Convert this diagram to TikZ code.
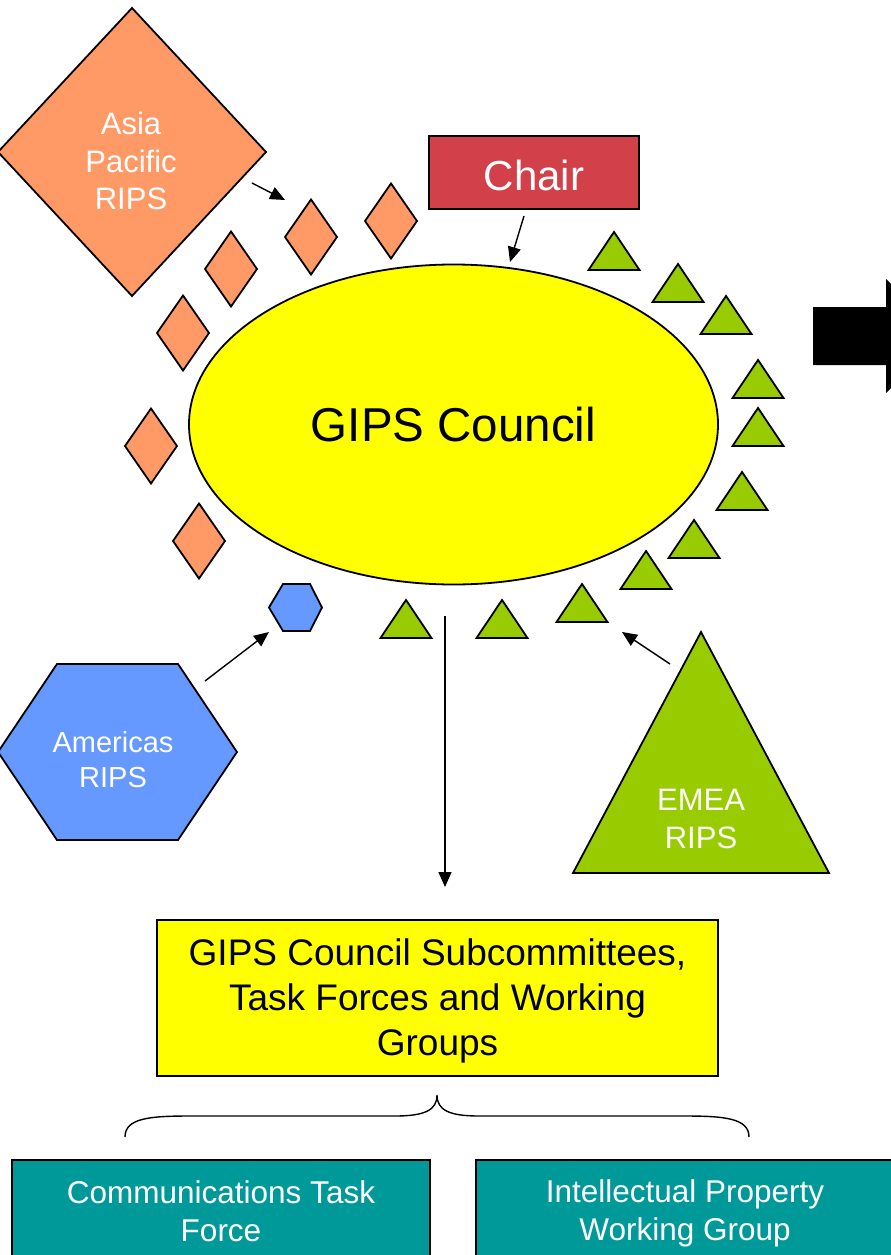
\documentclass[tikz,border=0pt]{standalone}
\usepackage{fontspec}
\setmainfont{Liberation Sans}
\usetikzlibrary{shapes.geometric,arrows.meta}
\definecolor{orng}{HTML}{FF9966}
\definecolor{ylw}{HTML}{FFFF00}
\definecolor{grn}{HTML}{99CC00}
\definecolor{blu}{HTML}{6699FF}
\definecolor{chairred}{HTML}{D2404A}
\definecolor{teal2}{HTML}{009999}
\tikzset{
  outl/.style={draw=black, line width=1.8pt, line join=miter},
  sdia/.pic={\path[outl, fill=orng] (0,-37.5) -- (26,0) -- (0,37.5) -- (-26,0) -- cycle;},
  gtri/.pic={\path[outl, fill=grn] (0,-38) -- (25.5,0) -- (-25.5,0) -- cycle;},
  conn/.style={line width=1.4pt, -{Triangle[length=15pt,width=13pt]}},
  wlabel/.style={text=white, align=center, inner sep=0pt},
}
\begin{document}
\begin{tikzpicture}[x=1pt,y=-1pt]
\useasboundingbox (0,0) rectangle (891,1255);
\clip (0,0) rectangle (891,1255);
\fill[white] (0,0) rectangle (891,1255);

% Asia Pacific RIPS
\path[outl, fill=orng] (132,8) -- (266,152) -- (132,296) -- (-2,152) -- cycle;
\node[wlabel, font=\fontsize{31}{37.5}\selectfont] (asia) at (131,161) {Asia\\Pacific\\RIPS};

% small diamonds
\pic at (311,237) {sdia};
\pic at (391,221) {sdia};
\pic at (231,269) {sdia};
\pic at (183,333) {sdia};
\pic at (151,446) {sdia};
\pic at (199,541) {sdia};

% Chair
\node[outl, fill=chairred, minimum width=210pt, minimum height=73pt, inner sep=0pt] (chair) at (534,172.5) {};
\node[text=white, inner sep=0pt, font=\fontsize{42}{48}\selectfont] (chairtext) at (534,175) {Chair};

% Council ellipse
\node[outl, ellipse, fill=ylw, minimum width=529pt, minimum height=320pt, inner sep=0pt,
      font=\fontsize{47.5}{54}\selectfont] (council) at (453.5,424.5) {GIPS Council};

% green triangles
\foreach \tx/\ty in {614/270, 678/302, 726/334, 758/398, 758/446, 742/510, 694/558, 646/589, 582/622, 406/638, 502/638}
  \pic at (\tx,\ty) {gtri};

% small hexagon
\path[outl, fill=blu] (283,584) -- (310,584) -- (322,607.5) -- (310,631) -- (283,631) -- (269,607.5) -- cycle;
\coordinate (smallhex) at (296,607.5);

% Americas RIPS
\path[outl, fill=blu] (57,664) -- (178,664) -- (237,752) -- (178,840) -- (57,840) -- (-2,752) -- cycle;
\node[wlabel, font=\fontsize{29}{35}\selectfont] (americas) at (113,760) {Americas\\RIPS};

% EMEA RIPS
\path[outl, fill=grn] (701,632) -- (829,873) -- (573,873) -- cycle;
\node[wlabel, font=\fontsize{31}{38}\selectfont] (emea) at (701,819) {EMEA\\RIPS};

% big black arrow (cut by the edge)
\fill[black] (813,307) -- (886,307) -- (886,279) -- (943,336) -- (886,393) -- (886,365) -- (813,365) -- cycle;

% Subcommittees box
\node[outl, fill=ylw, minimum width=561pt, minimum height=156pt, inner sep=0pt] (sub) at (437.5,998) {};
\node[inner sep=0pt, align=center, font=\fontsize{37}{45}\selectfont] (subtext) at (437.5,1001)
   {GIPS Council Subcommittees,\\Task Forces and Working\\Groups};

% brace
\draw[line width=1.4pt] (125,1137) .. controls (125,1118) and (150,1116) .. (190,1116) -- (395,1116)
   .. controls (425,1116) and (437,1110) .. (437,1095)
   .. controls (437,1110) and (449,1116) .. (479,1116) -- (684,1116)
   .. controls (724,1116) and (749,1118) .. (749,1137);

% bottom boxes
\path[outl, fill=teal2] (12,1160) rectangle (430,1300);
\path[outl, fill=teal2] (476,1160) rectangle (896,1300);
\node[wlabel, font=\fontsize{31.5}{38}\selectfont] (comm) at (221,1211) {Communications Task\\Force};
\node[wlabel, font=\fontsize{31.5}{38}\selectfont] (ipwg) at (685,1213) {Intellectual Property\\Working Group};

% connector end points
\coordinate (asiaS) at (252,183);
\coordinate (asiaE) at (285,200);
\coordinate (chairS) at (524,216);
\coordinate (chairE) at (510,262);
\coordinate (amS) at (205,681);
\coordinate (amE) at (269,632);
\coordinate (emS) at (670,664);
\coordinate (emE) at (622,632);
\coordinate (cS) at (445,616);
\coordinate (cE) at (445,887);

\draw[conn] (asiaS) -- (asiaE);
\draw[conn] (chairS) -- (chairE);
\draw[conn] (amS) -- (amE);
\draw[conn] (emS) -- (emE);
\draw[conn] (cS) -- (cE);
\end{tikzpicture}
\end{document}
